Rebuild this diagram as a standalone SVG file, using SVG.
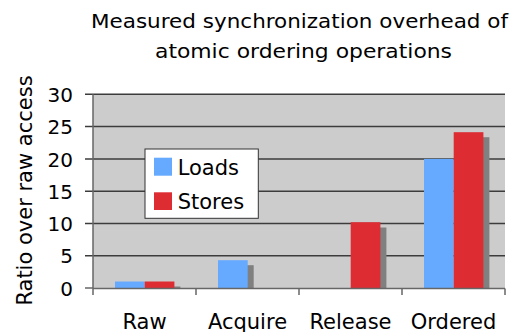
<svg xmlns="http://www.w3.org/2000/svg" width="521" height="332" viewBox="0 0 521 332">
  <style>
    text { font-family: "DejaVu Sans", Verdana, sans-serif; fill: #000; }
    .title { font-size: 19.5px; text-anchor: middle; }
    .tick { font-size: 20px; text-anchor: end; }
    .cat { font-size: 21px; text-anchor: middle; }
    .leg { font-size: 21px; }
    .grid { stroke: #3c3c3c; stroke-width: 1.5; fill: none; }
    .axis { stroke: #666; stroke-width: 1.5; fill: none; }
    .loads { fill: #66aaff; }
    .stores { fill: #de2c33; }
    .shadow { fill: #808080; }
  </style>
  <rect x="0" y="0" width="521" height="332" fill="#ffffff"/>

  <g id="title">
    <text class="title" x="299.5" y="27.5" textLength="417" lengthAdjust="spacingAndGlyphs">Measured synchronization overhead of</text>
    <text class="title" x="303.5" y="57.5" textLength="297" lengthAdjust="spacingAndGlyphs">atomic ordering operations</text>
  </g>

  <g id="plot-area">
    <rect x="93" y="94.3" width="412" height="193.7" fill="#cccccc"/>
    <g id="gridlines">
      <line class="grid" x1="85" y1="94.3" x2="505" y2="94.3"/>
      <line class="grid" x1="85" y1="126.6" x2="505" y2="126.6"/>
      <line class="grid" x1="85" y1="158.9" x2="505" y2="158.9"/>
      <line class="grid" x1="85" y1="191.2" x2="505" y2="191.2"/>
      <line class="grid" x1="85" y1="223.4" x2="505" y2="223.4"/>
      <line class="grid" x1="85" y1="255.7" x2="505" y2="255.7"/>
    </g>
  </g>

  <g id="y-axis">
    <line class="axis" x1="93" y1="94.3" x2="93" y2="295"/>
    <line class="axis" x1="85" y1="288" x2="93" y2="288"/>
    <text class="tick" x="73" y="102">30</text>
    <text class="tick" x="73" y="134.3">25</text>
    <text class="tick" x="73" y="166.6">20</text>
    <text class="tick" x="73" y="198.9">15</text>
    <text class="tick" x="73" y="231.1">10</text>
    <text class="tick" x="73" y="263.4">5</text>
    <text class="tick" x="73" y="295.7">0</text>
    <text font-size="21" text-anchor="middle" transform="translate(32,190.5) rotate(-90)">Ratio over raw access</text>
  </g>

  <g id="bars">
    <g id="shadows">
      <rect class="shadow" x="150.7" y="286.5" width="29.7" height="1.5"/>
      <rect class="shadow" x="224" y="265.2" width="29.7" height="22.8"/>
      <rect class="shadow" x="356.7" y="227.5" width="29.7" height="60.5"/>
      <rect class="shadow" x="459.7" y="137.2" width="29.7" height="150.8"/>
    </g>
    <g id="series-loads">
      <rect class="loads" x="115" y="281.5" width="29.7" height="6.5"/>
      <rect class="loads" x="218" y="260.2" width="29.7" height="27.8"/>
      <rect class="loads" x="424" y="158.9" width="29.7" height="129.1"/>
    </g>
    <g id="series-stores">
      <rect class="stores" x="144.7" y="281.5" width="29.7" height="6.5"/>
      <rect class="stores" x="350.7" y="222.2" width="29.7" height="65.8"/>
      <rect class="stores" x="453.7" y="132.2" width="29.7" height="155.8"/>
    </g>
  </g>

  <g id="x-axis">
    <line class="axis" x1="93" y1="288.5" x2="505" y2="288.5"/>
    <line class="axis" x1="196" y1="288.5" x2="196" y2="295"/>
    <line class="axis" x1="299" y1="288.5" x2="299" y2="295"/>
    <line class="axis" x1="402" y1="288.5" x2="402" y2="295"/>
    <line class="axis" x1="505" y1="288.5" x2="505" y2="295"/>
    <text class="cat" x="144.5" y="328.5">Raw</text>
    <text class="cat" x="247.5" y="328.5">Acquire</text>
    <text class="cat" x="350.5" y="328.5">Release</text>
    <text class="cat" x="453.5" y="328.5">Ordered</text>
  </g>

  <g id="legend">
    <rect x="145" y="149" width="113.3" height="69.3" fill="#ffffff" stroke="#333" stroke-width="1"/>
    <g id="legend-loads">
      <rect class="loads" x="154" y="157.7" width="18" height="18"/>
      <text class="leg" x="177.7" y="175">Loads</text>
    </g>
    <g id="legend-stores">
      <rect class="stores" x="154" y="192.3" width="18" height="17.7"/>
      <text class="leg" x="177.7" y="209.3">Stores</text>
    </g>
  </g>
</svg>
